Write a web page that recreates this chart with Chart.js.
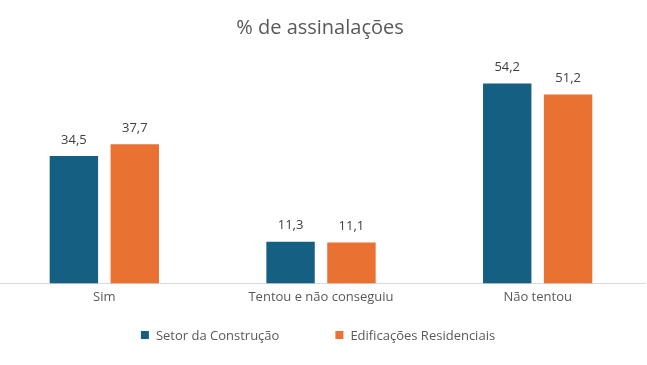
<!DOCTYPE html>
<html>
<head>
<meta charset="utf-8">
<script src="https://cdn.jsdelivr.net/npm/chart.js@4/dist/chart.umd.min.js"></script>
<style>
  html, body { margin: 0; padding: 0; background: #fff; overflow: hidden; }
  #wrap { width: 650px; height: 365px; margin-left: -4px; }
</style>
</head>
<body>
<div id="wrap"><canvas id="chart"></canvas></div>
<script>
// data
const categories = ["Sim", "Tentou e não conseguiu", "Não tentou"];
const setorConstrucao = [34.5, 11.3, 54.2];
const edificacoesResidenciais = [37.7, 11.1, 51.2];
const seriesNames = ["Setor da Construção", "Edificações Residenciais"];
const titleText = "% de assinalações";

const FONT = "'Open Sans', 'Noto Sans', sans-serif";
const BLUE = "#156082";
const ORANGE = "#E97132";
const SHIFT = 4; // canvas starts 4px left of the page

const fmt = v => v.toFixed(1).replace(".", ",");

// title, value labels and legend drawn on the canvas
const extras = {
  id: "extras",
  afterDraw(chart) {
    const ctx = chart.ctx;
    ctx.save();
    // title
    ctx.fillStyle = "#595959";
    ctx.font = "20px " + FONT;
    ctx.textAlign = "center";
    ctx.textBaseline = "middle";
    ctx.fillText(titleText, 320 + SHIFT, 28);

    // value labels
    ctx.fillStyle = "#404040";
    ctx.font = "13px " + FONT;
    chart.data.datasets.forEach((ds, i) => {
      chart.getDatasetMeta(i).data.forEach((bar, j) => {
        ctx.fillText(fmt(ds.data[j]), bar.x, bar.y - 16);
      });
    });

    // legend
    ctx.font = "13px " + FONT;
    ctx.textAlign = "left";
    const box = 8, gapBox = 7, gapItem = 56;
    const widths = chart.data.datasets.map(ds => box + gapBox + ctx.measureText(ds.label).width);
    const total = widths.reduce((a, b) => a + b, 0) + gapItem * (widths.length - 1);
    let x = 318 + SHIFT - total / 2;
    const y = 335;
    chart.data.datasets.forEach((ds, i) => {
      ctx.fillStyle = ds.backgroundColor;
      ctx.fillRect(x, y - box / 2, box, box);
      ctx.fillStyle = "#595959";
      ctx.fillText(ds.label, x + box + gapBox, y + 1);
      x += widths[i] + gapItem;
    });
    ctx.restore();
  }
};

new Chart(document.getElementById("chart"), {
  type: "bar",
  data: {
    labels: categories,
    datasets: [
      { label: seriesNames[0], data: setorConstrucao, backgroundColor: BLUE },
      { label: seriesNames[1], data: edificacoesResidenciais, backgroundColor: ORANGE }
    ]
  },
  options: {
    responsive: true,
    maintainAspectRatio: false,
    animation: false,
    devicePixelRatio: 1,
    categoryPercentage: 0.562,
    barPercentage: 0.795,
    layout: { padding: { top: 62, left: 0, right: 0, bottom: 54 } },
    plugins: {
      legend: { display: false },
      title: { display: false },
      tooltip: { enabled: false }
    },
    scales: {
      x: {
        grid: { display: false, drawTicks: false },
        border: { display: true, color: "#d9d9d9", width: 1 },
        ticks: { color: "#595959", font: { family: FONT, size: 13 }, padding: 6 }
      },
      y: { display: false, min: 0, max: 60 }
    }
  },
  plugins: [extras]
});
</script>
</body>
</html>
